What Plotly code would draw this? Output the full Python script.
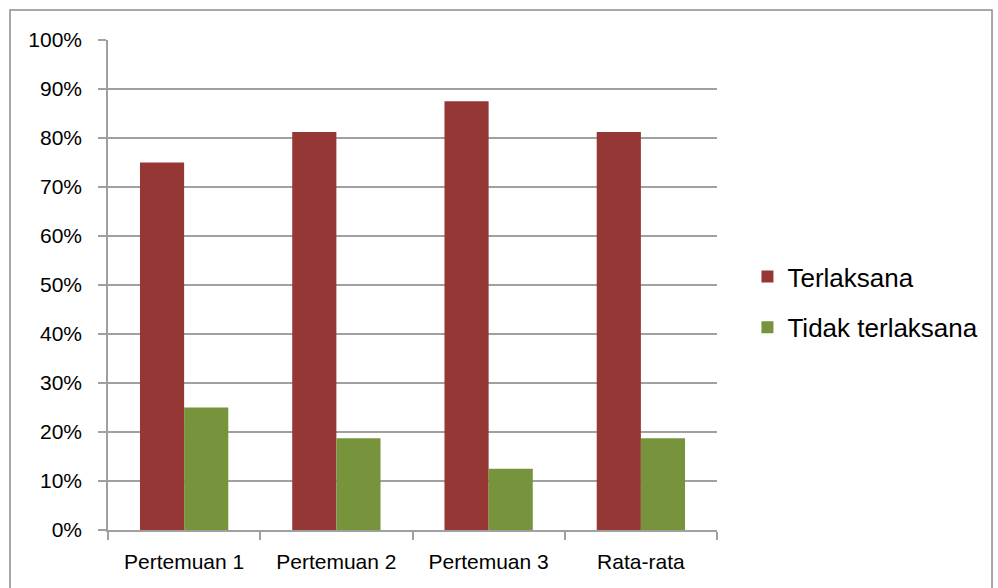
import plotly.graph_objects as go

categories = ["Pertemuan 1", "Pertemuan 2", "Pertemuan 3", "Rata-rata"]
terlaksana = [75, 81.25, 87.5, 81.25]
tidak_terlaksana = [25, 18.75, 12.5, 18.75]
y_ticks = [0, 10, 20, 30, 40, 50, 60, 70, 80, 90, 100]
y_tick_labels = [f"{v}%" for v in y_ticks]

fig = go.Figure()
fig.add_trace(go.Bar(x=categories, y=terlaksana, name="Terlaksana",
                     marker=dict(color="#953735", line=dict(width=0)),
                     legendgroup="a"))
fig.add_trace(go.Bar(x=categories, y=tidak_terlaksana, name="Tidak terlaksana",
                     marker=dict(color="#77933C", line=dict(width=0)),
                     legendgroup="b"))

grid = "#A0A0A0"
fig.update_layout(
    width=998, height=588,
    margin=dict(l=108, r=281, t=40, b=58),
    paper_bgcolor="white", plot_bgcolor="white",
    barmode="group", bargap=0.42, bargroupgap=0,
    font=dict(family="Liberation Sans, Arial, sans-serif", color="#000000"),
    legend=dict(x=1.05, y=0.465, xanchor="left", yanchor="middle",
                font=dict(size=26), tracegroupgap=14,
                itemwidth=30, bgcolor="rgba(0,0,0,0)"),
    xaxis=dict(showline=True, linecolor=grid, linewidth=1.5,
               ticks="outside", tickson="boundaries", ticklen=8,
               tickcolor=grid, tickwidth=1.5, ticklabelstandoff=12,
               tickangle=0, automargin=False,
               tickfont=dict(size=21), showgrid=False),
    yaxis=dict(range=[0, 100], tickvals=y_ticks, ticktext=y_tick_labels,
               showline=True, linecolor=grid, linewidth=1.5,
               ticks="outside", ticklen=8, tickcolor=grid, tickwidth=1.5,
               ticklabelstandoff=12, automargin=False,
               showgrid=True, gridcolor=grid, gridwidth=1.5,
               zeroline=False, tickfont=dict(size=21)),
    shapes=[dict(type="rect", xref="paper", yref="paper",
                 x0=-0.1609, x1=1.4516, y0=-0.13, y1=1.0612,
                 line=dict(color="#8C8C8C", width=1.5), layer="below")],
)

fig.write_html("out.html")
